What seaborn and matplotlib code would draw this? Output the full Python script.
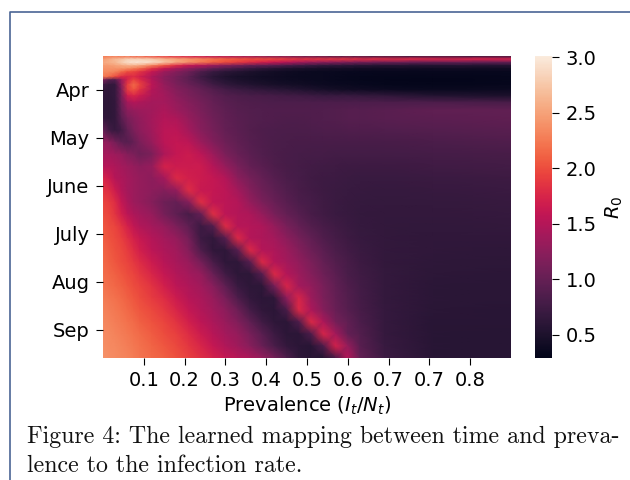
import numpy as np
import seaborn as sns
import matplotlib.pyplot as plt
from matplotlib.lines import Line2D

# grid positions, denser where the map has fine detail
col_cells = [0, 1.5, 3, 4.5, 6, 7.5, 9, 12, 15, 18, 21, 24, 27, 30, 33, 36, 39, 42, 45, 48,
             51, 54, 57, 60, 63, 69, 81, 100]
row_days = [0, 2, 4, 6, 8, 10, 13, 15, 18, 21, 25, 29, 34, 39, 46.5, 54, 61.5, 69, 76.5, 84,
            91.5, 99, 106.5, 114, 121.5, 129, 136.5, 144, 151.5, 159, 166.5, 174, 181.5, 189]

x_ticks = [10, 20, 30, 40, 50, 60, 70, 80, 90]
x_labels = ['0.1', '0.2', '0.3', '0.4', '0.5', '0.6', '0.7', '0.7', '0.8']
y_ticks = [21.25, 51.25, 81.25, 111.25, 141.25, 171.25]
y_labels = ['Apr', 'May', 'June', 'July', 'Aug', 'Sep']

# R0 estimated by eye, one row per time step
r0_rows = [
    [2.25, 2.25, 2.25, 2.2, 2.2, 2.1, 2.1, 2.0, 1.9, 1.8, 1.7, 1.6, 1.5, 1.45, 1.35, 1.3, 1.2, 1.15, 1.1, 1.0, 0.95, 0.9, 0.85, 0.85, 0.8, 0.75, 0.72, 0.7],
    [2.45, 2.55, 2.65, 2.7, 2.8, 2.8, 2.8, 2.75, 2.6, 2.5, 2.4, 2.3, 2.2, 2.1, 2.05, 2.0, 2.0, 1.95, 1.9, 1.85, 1.85, 1.85, 1.85, 1.85, 1.8, 1.8, 1.75, 1.7],
    [2.55, 2.6, 2.65, 2.8, 2.92, 2.97, 2.97, 2.92, 2.75, 2.55, 2.4, 2.25, 2.1, 2.0, 1.9, 1.8, 1.7, 1.6, 1.5, 1.4, 1.3, 1.25, 1.2, 1.15, 1.1, 1.05, 1.0, 1.0],
    [2.45, 2.45, 2.5, 2.55, 2.6, 2.6, 2.55, 2.3, 2.05, 1.8, 1.6, 1.5, 1.35, 1.2, 1.1, 1.0, 0.95, 0.9, 0.8, 0.75, 0.7, 0.65, 0.62, 0.6, 0.58, 0.55, 0.55, 0.55],
    [2.4, 2.4, 2.4, 2.4, 2.35, 2.25, 2.15, 1.85, 1.6, 1.4, 1.25, 1.1, 0.95, 0.85, 0.75, 0.68, 0.6, 0.55, 0.5, 0.48, 0.45, 0.43, 0.42, 0.42, 0.4, 0.4, 0.4, 0.4],
    [2.35, 2.35, 2.3, 2.15, 2.0, 1.95, 1.85, 1.6, 1.35, 1.2, 1.05, 0.85, 0.7, 0.6, 0.55, 0.5, 0.45, 0.42, 0.4, 0.38, 0.37, 0.36, 0.36, 0.35, 0.35, 0.34, 0.34, 0.35],
    [2.25, 2.15, 2.0, 1.8, 1.75, 1.8, 1.7, 1.45, 1.25, 1.1, 0.95, 0.75, 0.6, 0.52, 0.47, 0.44, 0.41, 0.4, 0.38, 0.37, 0.36, 0.36, 0.35, 0.34, 0.33, 0.32, 0.32, 0.33],
    [1.15, 0.9, 0.9, 1.35, 1.75, 1.95, 1.8, 1.5, 1.25, 1.1, 0.95, 0.8, 0.65, 0.56, 0.5, 0.46, 0.43, 0.41, 0.39, 0.38, 0.37, 0.36, 0.35, 0.34, 0.33, 0.32, 0.31, 0.33],
    [0.75, 0.66, 0.68, 1.25, 1.9, 2.15, 1.95, 1.55, 1.3, 1.15, 1.02, 0.9, 0.75, 0.65, 0.58, 0.54, 0.5, 0.47, 0.44, 0.42, 0.4, 0.38, 0.37, 0.36, 0.35, 0.33, 0.32, 0.34],
    [0.66, 0.64, 0.68, 1.15, 1.9, 2.05, 1.85, 1.5, 1.35, 1.2, 1.1, 1.0, 0.88, 0.78, 0.72, 0.68, 0.64, 0.6, 0.57, 0.54, 0.5, 0.46, 0.43, 0.41, 0.4, 0.38, 0.36, 0.38],
    [0.64, 0.62, 0.68, 1.1, 1.65, 1.75, 1.65, 1.45, 1.4, 1.25, 1.15, 1.05, 0.95, 0.88, 0.85, 0.82, 0.8, 0.78, 0.76, 0.75, 0.72, 0.7, 0.7, 0.7, 0.68, 0.65, 0.55, 0.5],
    [0.62, 0.61, 0.66, 1.05, 1.4, 1.5, 1.45, 1.4, 1.4, 1.3, 1.2, 1.1, 1.0, 0.92, 0.88, 0.86, 0.85, 0.84, 0.84, 0.84, 0.84, 0.84, 0.84, 0.84, 0.84, 0.84, 0.84, 0.8],
    [0.62, 0.61, 0.66, 1.0, 1.25, 1.3, 1.35, 1.38, 1.45, 1.35, 1.25, 1.13, 1.03, 0.95, 0.9, 0.88, 0.87, 0.86, 0.86, 0.86, 0.86, 0.87, 0.88, 0.9, 0.9, 0.92, 0.96, 0.98],
    [0.66, 0.62, 0.66, 0.92, 1.12, 1.22, 1.28, 1.4, 1.5, 1.45, 1.3, 1.18, 1.06, 0.98, 0.92, 0.89, 0.87, 0.86, 0.85, 0.85, 0.86, 0.87, 0.88, 0.9, 0.9, 0.92, 0.94, 0.96],
    [1.0, 0.76, 0.68, 0.76, 0.98, 1.15, 1.25, 1.38, 1.55, 1.55, 1.4, 1.22, 1.1, 1.0, 0.93, 0.88, 0.85, 0.84, 0.83, 0.83, 0.84, 0.85, 0.85, 0.86, 0.86, 0.87, 0.89, 0.92],
    [1.3, 1.25, 1.1, 0.95, 0.9, 1.0, 1.15, 1.32, 1.55, 1.6, 1.55, 1.35, 1.18, 1.05, 0.96, 0.9, 0.86, 0.83, 0.82, 0.81, 0.81, 0.81, 0.81, 0.81, 0.81, 0.81, 0.83, 0.86],
    [1.4, 1.4, 1.35, 1.3, 1.2, 1.15, 1.05, 1.15, 1.45, 1.6, 1.65, 1.55, 1.35, 1.15, 1.02, 0.93, 0.87, 0.83, 0.8, 0.79, 0.78, 0.78, 0.77, 0.77, 0.77, 0.77, 0.78, 0.81],
    [1.5, 1.5, 1.45, 1.4, 1.35, 1.3, 1.25, 1.3, 1.72, 1.65, 1.65, 1.65, 1.5, 1.3, 1.12, 1.0, 0.92, 0.85, 0.8, 0.78, 0.76, 0.75, 0.74, 0.73, 0.73, 0.73, 0.75, 0.77],
    [1.75, 1.65, 1.5, 1.45, 1.4, 1.35, 1.3, 1.25, 1.4, 1.78, 1.7, 1.65, 1.6, 1.5, 1.25, 1.1, 1.0, 0.9, 0.83, 0.79, 0.75, 0.73, 0.72, 0.71, 0.7, 0.7, 0.71, 0.73],
    [1.85, 1.8, 1.65, 1.5, 1.4, 1.35, 1.3, 1.25, 1.2, 1.3, 1.8, 1.62, 1.6, 1.55, 1.4, 1.2, 1.05, 0.95, 0.87, 0.8, 0.76, 0.73, 0.71, 0.7, 0.69, 0.68, 0.69, 0.71],
    [1.95, 1.9, 1.8, 1.6, 1.45, 1.35, 1.3, 1.2, 1.05, 1.0, 1.2, 1.82, 1.58, 1.55, 1.5, 1.3, 1.15, 1.02, 0.92, 0.84, 0.79, 0.74, 0.71, 0.69, 0.68, 0.67, 0.67, 0.69],
    [2.0, 1.95, 1.85, 1.7, 1.55, 1.45, 1.4, 1.3, 1.1, 0.95, 0.8, 1.0, 1.82, 1.55, 1.5, 1.45, 1.3, 1.12, 1.0, 0.9, 0.8, 0.75, 0.71, 0.69, 0.67, 0.66, 0.66, 0.68],
    [2.05, 2.0, 1.95, 1.85, 1.72, 1.58, 1.48, 1.4, 1.3, 1.15, 0.95, 0.72, 0.88, 1.8, 1.52, 1.5, 1.45, 1.3, 1.12, 1.0, 0.88, 0.8, 0.75, 0.71, 0.68, 0.66, 0.65, 0.66],
    [2.08, 2.03, 1.98, 1.92, 1.82, 1.72, 1.62, 1.5, 1.4, 1.3, 1.1, 0.72, 0.65, 0.9, 1.78, 1.5, 1.45, 1.4, 1.25, 1.1, 0.97, 0.86, 0.78, 0.73, 0.69, 0.66, 0.64, 0.64],
    [2.12, 2.07, 2.02, 1.97, 1.9, 1.8, 1.7, 1.55, 1.45, 1.38, 1.2, 0.85, 0.63, 0.62, 0.9, 1.78, 1.5, 1.45, 1.35, 1.2, 1.05, 0.93, 0.83, 0.76, 0.71, 0.66, 0.63, 0.62],
    [2.15, 2.1, 2.05, 2.0, 1.95, 1.88, 1.8, 1.65, 1.52, 1.42, 1.33, 1.1, 0.8, 0.62, 0.62, 0.9, 1.78, 1.5, 1.4, 1.28, 1.15, 1.0, 0.88, 0.8, 0.73, 0.66, 0.62, 0.61],
    [2.18, 2.14, 2.1, 2.05, 2.0, 1.95, 1.88, 1.75, 1.6, 1.48, 1.4, 1.3, 1.02, 0.75, 0.61, 0.61, 0.9, 1.78, 1.5, 1.35, 1.2, 1.05, 0.93, 0.82, 0.75, 0.67, 0.61, 0.6],
    [2.22, 2.18, 2.14, 2.1, 2.05, 2.0, 1.95, 1.85, 1.7, 1.55, 1.46, 1.38, 1.22, 0.95, 0.7, 0.61, 0.61, 1.1, 1.75, 1.4, 1.28, 1.12, 0.98, 0.86, 0.77, 0.67, 0.6, 0.59],
    [2.26, 2.23, 2.2, 2.15, 2.1, 2.05, 2.0, 1.9, 1.8, 1.65, 1.52, 1.44, 1.32, 1.12, 0.85, 0.66, 0.6, 0.62, 1.25, 1.75, 1.35, 1.15, 1.0, 0.88, 0.78, 0.67, 0.6, 0.59],
    [2.3, 2.27, 2.24, 2.2, 2.15, 2.1, 2.05, 1.97, 1.88, 1.75, 1.6, 1.48, 1.38, 1.25, 1.05, 0.78, 0.63, 0.6, 0.8, 1.78, 1.45, 1.2, 1.02, 0.9, 0.8, 0.68, 0.59, 0.58],
    [2.33, 2.3, 2.27, 2.24, 2.2, 2.16, 2.1, 2.03, 1.95, 1.85, 1.7, 1.56, 1.44, 1.33, 1.18, 0.98, 0.75, 0.62, 0.6, 0.85, 1.78, 1.45, 1.1, 0.97, 0.84, 0.68, 0.58, 0.58],
    [2.36, 2.33, 2.3, 2.27, 2.24, 2.2, 2.16, 2.08, 2.0, 1.92, 1.8, 1.65, 1.52, 1.4, 1.3, 1.12, 0.92, 0.72, 0.6, 0.6, 0.85, 1.75, 1.4, 1.0, 0.88, 0.68, 0.58, 0.57],
    [2.38, 2.35, 2.33, 2.3, 2.27, 2.24, 2.2, 2.12, 2.05, 1.97, 1.87, 1.75, 1.6, 1.47, 1.37, 1.22, 1.02, 0.82, 0.66, 0.6, 0.58, 0.85, 1.72, 1.3, 0.92, 0.7, 0.58, 0.57],
    [2.4, 2.37, 2.35, 2.32, 2.3, 2.26, 2.22, 2.15, 2.1, 2.02, 1.93, 1.83, 1.72, 1.6, 1.52, 1.45, 1.3, 1.1, 0.85, 0.62, 0.58, 0.55, 0.8, 1.5, 1.0, 0.72, 0.58, 0.57],
]

plt.rcParams['font.size'] = 14

fig = plt.figure(figsize=(6.3, 4.8), dpi=100)
ax = fig.add_axes([103 / 630, 1 - 358 / 480, 408 / 630, 302 / 480])
cax = fig.add_axes([535 / 630, 1 - 358 / 480, 17 / 630, 302 / 480])

# gouraud shading puts the values on the mesh corners, seaborn passes it to pcolormesh
data = np.array(r0_rows)
sns.heatmap(data, ax=ax, cbar_ax=cax, cmap='rocket', vmin=0.29, vmax=3.01,
            xticklabels=False, yticklabels=False, shading='gouraud',
            cbar_kws={'label': '$R_0$'})

# the mesh is in row/column index, map the axes to the uneven grid positions
col_idx = np.arange(len(col_cells))
row_idx = np.arange(len(row_days))
ax.set_xscale('function', functions=(lambda v: np.interp(v, col_idx, col_cells),
                                     lambda v: np.interp(v, col_cells, col_idx)))
ax.set_yscale('function', functions=(lambda v: np.interp(v, row_idx, row_days),
                                     lambda v: np.interp(v, row_days, row_idx)))
ax.set_xlim(0, len(col_cells) - 1)
ax.set_ylim(len(row_days) - 1, 0)

ax.set_xticks(np.interp(x_ticks, col_cells, col_idx), labels=x_labels, minor=False)
ax.set_yticks(np.interp(y_ticks, row_days, row_idx), labels=y_labels, minor=False)
ax.minorticks_off()
ax.tick_params(axis='y', rotation=0, length=4.7, pad=5)
ax.tick_params(axis='x', length=4.7, pad=5)
ax.set_xlabel('Prevalence ($I_t/N_t$)', labelpad=3)

cax.set_yticks([0.5, 1.0, 1.5, 2.0, 2.5, 3.0])
cax.tick_params(length=4.7, pad=5)
cax.yaxis.label.set_size(14)
cax.yaxis.labelpad = 5

# page elements around the figure
fig.add_artist(Line2D([9.5 / 630, 9.5 / 630, 1], [0, 1 - 11.5 / 480, 1 - 11.5 / 480],
                      color='#4a6595', lw=1.2))
fig.text(27 / 630, 1 - 443 / 480, 'Figure 4: The learned mapping between time and preva-',
         family='cmr10', fontsize=17.2, color='#111111')
fig.text(27 / 630, 1 - 472 / 480, 'lence to the infection rate.',
         family='cmr10', fontsize=17.2, color='#111111')

fig.savefig('out.png', dpi=100)
